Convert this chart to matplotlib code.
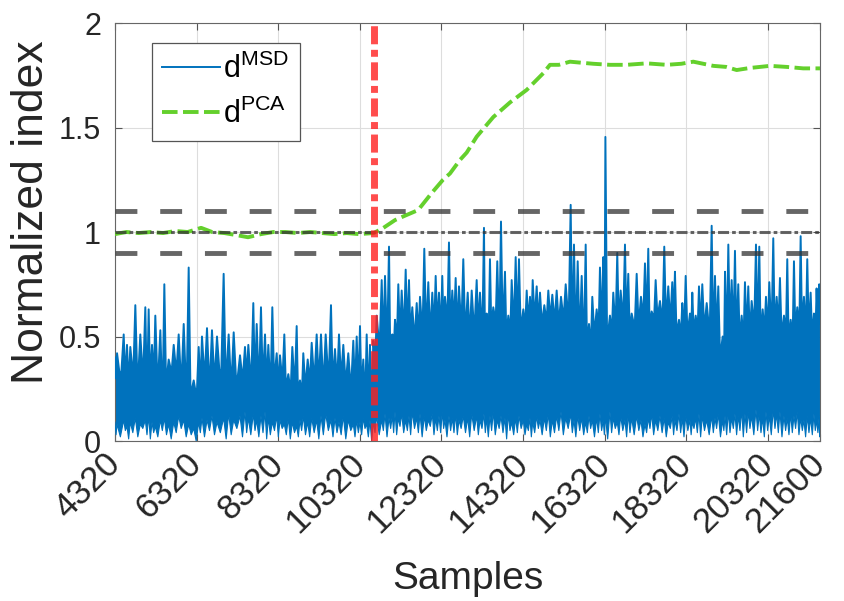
import numpy as np
import matplotlib
matplotlib.use("Agg")
import matplotlib.pyplot as plt

plt.rcParams['font.family'] = ['Liberation Sans', 'DejaVu Sans']
plt.rcParams['mathtext.fontset'] = 'custom'
plt.rcParams['mathtext.rm'] = 'Liberation Sans'

# d^MSD: spike tops (sample, value)
msd_peak_x = [4320,
    4370, 4533, 4614, 4695, 4818, 4940, 5063, 5145, 5227, 5308, 5431, 5529, 5636,
    5759, 5881, 6004, 6126, 6249, 6371, 6452, 6575, 6697, 6820, 6983, 7106, 7229,
    7384, 7506, 7588, 7710, 7793, 7898, 7997, 8078, 8176, 8283, 8364, 8470, 8568,
    8666, 8773, 8854, 8935, 9043, 9141, 9263, 9369, 9484, 9614, 9712, 9810, 9916,
    10038, 10161,
    10244, 10325, 10406, 10489, 10570, 10651, 10734, 10857, 10938, 11036, 11117,
    11183, 11264, 11347, 11445, 11526, 11607, 11715, 11796, 11901, 11999, 12097,
    12180, 12261, 12342, 12408, 12506, 12587, 12670, 12751, 12857, 12965, 13063,
    13185, 13266, 13364, 13430, 13511, 13592, 13690, 13781, 13879, 13960, 14043,
    14141, 14222, 14328, 14411, 14492, 14558, 14656, 14737, 14843, 14941, 15039,
    15146, 15252, 15367, 15489, 15570, 15661, 15759, 15857, 15938, 16019,
    16126, 16207, 16288, 16340, 16452, 16533, 16631, 16714, 16820, 16901, 16984,
    17107, 17212, 17310, 17391, 17474, 17572, 17678, 17783, 17881, 17979, 18045,
    18144, 18225, 18308, 18413, 18470, 18553, 18634, 18715, 18823,
    18945, 19026, 19107, 19215, 19272, 19353, 19435, 19516, 19597, 19680, 19761,
    19842, 19925, 20031, 20112, 20195, 20276, 20357, 20455, 20538, 20619, 20717,
    20798, 20881, 20962, 21043, 21126, 21207, 21288, 21371, 21452, 21517, 21581,
    21600]
msd_peak_y = [0.40,
    0.42, 0.51, 0.46, 0.45, 0.65, 0.51, 0.64, 0.63, 0.46, 0.60, 0.53, 0.75, 0.39,
    0.46, 0.51, 0.56, 0.83, 0.29, 0.45, 0.50, 0.54, 0.53, 0.50, 0.80, 0.51, 0.52,
    0.41, 0.45, 0.46, 0.66, 0.56, 0.64, 0.51, 0.46, 0.64, 0.42, 0.41, 0.51, 0.32,
    0.45, 0.55, 0.29, 0.42, 0.39, 0.47, 0.51, 0.51, 0.51, 0.65, 0.44, 0.51, 0.46,
    0.42, 0.48,
    0.50, 0.55, 0.39, 0.51, 0.46, 0.48, 0.60, 0.77, 0.79, 0.93, 0.51,
    0.58, 0.75, 0.72, 0.82, 0.77, 0.64, 0.66, 0.69, 0.92, 0.76, 0.71,
    0.79, 0.71, 0.79, 0.69, 0.95, 0.72, 0.78, 0.74, 0.87, 0.71, 0.72,
    0.77, 0.71, 1.02, 0.61, 0.87, 0.64, 0.86, 1.05, 0.81, 0.60, 0.77,
    0.88, 0.87, 0.63, 0.72, 0.69, 0.77, 0.74, 0.71, 0.65, 0.72, 0.70,
    0.72, 0.69, 0.75, 1.13, 0.94, 0.86, 0.79, 0.94, 0.56, 0.69,
    0.63, 0.83, 0.88, 1.455, 0.60, 0.71, 0.90, 0.72, 0.94, 0.80, 0.61,
    0.80, 0.69, 0.85, 0.92, 0.62, 0.77, 0.67, 0.93, 0.74, 0.76, 0.81,
    0.58, 0.66, 0.79, 0.61, 0.71, 0.60, 0.74, 0.75, 0.66,
    1.03, 0.79, 0.74, 0.50, 0.81, 0.94, 0.77, 0.91, 0.75, 0.60, 0.76,
    0.74, 0.67, 0.94, 0.93, 0.63, 0.69, 0.76, 0.97, 0.69, 0.78, 0.60,
    0.87, 0.58, 0.86, 0.64, 0.98, 0.69, 0.87, 0.71, 0.61, 0.73, 0.75,
    0.72]
# top of the dense part between two spikes
msd_valley_y = [
    0.30, 0.33, 0.35, 0.32, 0.36, 0.34, 0.37, 0.33, 0.35, 0.36, 0.34, 0.30, 0.32, 0.35,
    0.37, 0.34, 0.33, 0.25, 0.24, 0.32, 0.36, 0.33, 0.35, 0.34, 0.36, 0.33, 0.31,
    0.33, 0.35, 0.34, 0.37, 0.35, 0.36, 0.33, 0.32, 0.34, 0.31, 0.33, 0.28, 0.27, 0.32,
    0.26, 0.25, 0.30, 0.32, 0.34, 0.35, 0.33, 0.36, 0.34, 0.33, 0.35, 0.32, 0.30, 0.32,
    0.33, 0.30, 0.26, 0.28, 0.24, 0.42, 0.50, 0.55, 0.56, 0.45, 0.47, 0.52, 0.57, 0.58,
    0.60, 0.56, 0.53, 0.55, 0.58, 0.60, 0.57, 0.59, 0.61, 0.58, 0.60, 0.62, 0.60, 0.62,
    0.59, 0.61, 0.58, 0.56, 0.58,
    0.60, 0.58, 0.52, 0.55, 0.58, 0.60, 0.62, 0.63, 0.54, 0.55, 0.62, 0.64, 0.57, 0.58,
    0.61, 0.60, 0.63, 0.61, 0.59, 0.60, 0.62, 0.61, 0.60, 0.62, 0.64, 0.63, 0.60, 0.58,
    0.55, 0.50, 0.49, 0.55,
    0.57, 0.62, 0.60, 0.53, 0.55, 0.60, 0.62, 0.63, 0.64, 0.56, 0.57, 0.60, 0.63, 0.65,
    0.58, 0.60, 0.62, 0.61, 0.63, 0.62, 0.64, 0.54, 0.53, 0.58, 0.55, 0.57, 0.55, 0.56,
    0.60, 0.58, 0.57,
    0.60, 0.58, 0.44, 0.45, 0.58, 0.62, 0.60, 0.58, 0.52, 0.53, 0.58, 0.56, 0.60, 0.62,
    0.55, 0.56, 0.58, 0.60, 0.59, 0.60, 0.54, 0.55, 0.52, 0.53, 0.57, 0.58, 0.60, 0.58,
    0.59, 0.54, 0.55, 0.58, 0.56]
# lower edge: tooth height under each spike, and the dip in between
msd_floor_y = [
    0.09, 0.08, 0.10, 0.07, 0.09, 0.11, 0.08, 0.10, 0.12, 0.09, 0.07, 0.10, 0.11, 0.08,
    0.09, 0.12, 0.10, 0.08, 0.06, 0.09, 0.11, 0.10, 0.12, 0.09, 0.11, 0.13, 0.10,
    0.12, 0.14, 0.11, 0.13, 0.10, 0.12, 0.14, 0.11, 0.09, 0.12, 0.10, 0.08, 0.11, 0.09,
    0.07, 0.10, 0.12, 0.09, 0.11, 0.10, 0.12, 0.13, 0.10, 0.11, 0.09, 0.12, 0.10, 0.08,
    0.10, 0.09, 0.11, 0.08, 0.10, 0.09, 0.12, 0.10, 0.13, 0.11, 0.12, 0.14, 0.11, 0.13,
    0.10, 0.12, 0.14, 0.11, 0.13, 0.12, 0.10, 0.13, 0.11, 0.12, 0.14, 0.10, 0.12, 0.11,
    0.13, 0.10, 0.12, 0.11, 0.13,
    0.12, 0.10, 0.13, 0.11, 0.12, 0.14, 0.10, 0.12, 0.11, 0.13, 0.09, 0.11, 0.12, 0.10,
    0.08, 0.11, 0.09, 0.12, 0.10, 0.11, 0.13, 0.10, 0.12, 0.14, 0.11, 0.13, 0.10, 0.12,
    0.11, 0.09, 0.12, 0.10,
    0.11, 0.13, 0.10, 0.12, 0.14, 0.11, 0.09, 0.12, 0.10, 0.13, 0.11, 0.12, 0.10, 0.08,
    0.11, 0.13, 0.10, 0.12, 0.11, 0.09, 0.12, 0.10, 0.13, 0.11, 0.12, 0.10, 0.09, 0.11,
    0.13, 0.12, 0.10,
    0.12, 0.11, 0.13, 0.10, 0.12, 0.14, 0.11, 0.13, 0.12, 0.15, 0.13, 0.14, 0.12, 0.15,
    0.13, 0.11, 0.14, 0.12, 0.15, 0.13, 0.14, 0.12, 0.11, 0.13, 0.12, 0.14, 0.11, 0.10,
    0.12, 0.11, 0.13, 0.10, 0.12, 0.11]
msd_trough_y = [
    0.03, 0.02, 0.05, 0.01, 0.04, 0.02, 0.06, 0.03, 0.01, 0.04,
    0.02, 0.05, 0.03, 0.01, 0.04, 0.06, 0.02, 0.03, 0.00, 0.04,
    0.02, 0.05, 0.03, 0.04, 0.01, 0.03, 0.06, 0.02, 0.04, 0.03,
    0.05, 0.02, 0.04, 0.01, 0.03, 0.05, 0.02, 0.06, 0.03, 0.01,
    0.04, 0.02, 0.05, 0.03, 0.02, 0.04, 0.01, 0.03, 0.05, 0.02,
    0.04, 0.03, 0.01, 0.05, 0.02, 0.04, 0.03, 0.06, 0.02, 0.00,
    0.04, 0.03, 0.05, 0.02, 0.06, 0.04, 0.03, 0.07, 0.04, 0.05,
    0.03, 0.06, 0.04, 0.02, 0.05, 0.07, 0.03, 0.05, 0.04, 0.06,
    0.02, 0.05, 0.04, 0.03, 0.06, 0.04, 0.02, 0.05, 0.03, 0.06,
    0.04, 0.02, 0.05, 0.03, 0.06, 0.04, 0.01, 0.05, 0.03, 0.04,
    0.06, 0.03, 0.05, 0.02, 0.04, 0.06, 0.03, 0.05, 0.02, 0.04,
    0.05, 0.03, 0.06, 0.04, 0.02, 0.05, 0.03, 0.04, 0.06, 0.02,
    0.04, 0.05, 0.03, 0.01, 0.04, 0.06, 0.03, 0.05, 0.02, 0.04,
    0.03, 0.05, 0.02, 0.04, 0.06, 0.03, 0.05, 0.04, 0.02, 0.06,
    0.03, 0.05, 0.04, 0.02, 0.05, 0.03, 0.06, 0.04, 0.02, 0.05,
    0.03, 0.04, 0.06, 0.02, 0.05, 0.03, 0.04, 0.06, 0.03, 0.05,
    0.02, 0.04, 0.06, 0.03, 0.05, 0.04, 0.02, 0.05, 0.03, 0.06,
    0.04, 0.02, 0.05, 0.03, 0.04, 0.06, 0.03, 0.05, 0.02, 0.04,
    0.03, 0.05, 0.04, 0.02]

# d^PCA
pca_x = [4320, 4600, 4900, 5200, 5500, 5800, 6100, 6430, 6700, 7000, 7300, 7580,
         7900, 8200, 8500, 8800, 9100, 9400, 9700, 10000, 10300, 10660, 10900,
         11183, 11450, 11750, 12080, 12360, 12531, 12776, 12940, 13185, 13592,
         14002, 14411, 14818, 14982, 15200, 15472, 15750, 16044, 16452, 16861,
         17351, 17842, 18200, 18495, 18985, 19300, 19558, 19884, 20374, 20783,
         21190, 21600]
pca_y = [0.99, 1.0, 0.995, 1.0, 0.995, 1.005, 1.0, 1.02, 1.0, 0.995, 0.985, 0.975,
         0.99, 1.0, 1.0, 0.995, 1.0, 0.995, 0.99, 0.995, 0.99, 0.995, 1.02,
         1.057, 1.08, 1.105, 1.186, 1.25, 1.28, 1.345, 1.38, 1.456, 1.55,
         1.62, 1.68, 1.76, 1.80, 1.80, 1.815, 1.81, 1.805, 1.80, 1.80,
         1.807, 1.80, 1.805, 1.815, 1.795, 1.79, 1.775, 1.785, 1.795, 1.79,
         1.783, 1.783]

upper_limit = 1.1
lower_limit = 0.9
nominal = 1.0
change_point = 10660

xticks = [4320, 6320, 8320, 10320, 12320, 14320, 16320, 18320, 20320, 21600]
yticks = [0, 0.5, 1, 1.5, 2]
ytick_labels = ['0', '0.5', '1', '1.5', '2']

blue = '#0072BD'
green = '#64d02c'

fig = plt.figure(figsize=(8.45, 6.01), dpi=100)
ax = fig.add_axes([0.1361, 0.2662, 0.8343, 0.6955])

px = np.array(msd_peak_x, dtype=float)
step = px[1:] - px[:-1]
n = len(px)

# upper edge: spike, then a flat stretch of the dense band
up_x = np.empty(3 * n - 2)
up_y = np.empty(3 * n - 2)
up_x[0::3] = px
up_x[1::3] = px[:-1] + 0.35 * step
up_x[2::3] = px[:-1] + 0.65 * step
up_y[0::3] = msd_peak_y
up_y[1::3] = msd_valley_y
up_y[2::3] = msd_valley_y

# lower edge: tooth under each spike, dip in between
lo_x = np.empty(2 * n - 1)
lo_y = np.empty(2 * n - 1)
lo_x[0::2] = px
lo_x[1::2] = px[:-1] + 0.5 * step
lo_y[0::2] = msd_floor_y
lo_y[1::2] = msd_trough_y

ax.fill(np.concatenate([up_x, lo_x[::-1]]), np.concatenate([up_y, lo_y[::-1]]),
        color=blue, lw=0, zorder=2)
ax.plot(up_x, up_y, color=blue, lw=1.4, label=r'd$^{\mathrm{MSD}}$', zorder=3)
ax.plot(lo_x, lo_y, color=blue, lw=0.8, zorder=3)
ax.plot(pca_x, pca_y, color=green, lw=2.8, ls=(0, (4, 1.4)),
        label=r'd$^{\mathrm{PCA}}$', zorder=4)

ax.axhline(upper_limit, color='#333333', alpha=0.75, lw=3.5, ls=(0, (4.5, 4.7)), zorder=5)
ax.axhline(lower_limit, color='#333333', alpha=0.75, lw=3.5, ls=(0, (4.5, 4.7)), zorder=5)
ax.axhline(nominal, color='#333333', alpha=0.75, lw=2.2, ls=(0, (3.6, 1, 1.2, 1)), zorder=5)
ax.axvline(change_point, color='#ff2020', alpha=0.8, lw=5, ls=(0, (2.6, 0.8, 1, 0.8)), zorder=6)

ax.set_xlim(4320, 21600)
ax.set_ylim(0, 2)
ax.set_xticks(xticks)
ax.set_xticklabels([str(t) for t in xticks], rotation=45, ha='right', va='center',
                   rotation_mode='anchor')
ax.set_yticks(yticks)
ax.set_yticklabels(ytick_labels)
ax.tick_params(direction='in', length=5, top=True, right=True, labelsize=22,
               labelcolor='#262626', color='#555555', width=0.8)
ax.tick_params(axis='x', pad=13, labelsize=25)
ax.tick_params(axis='y', pad=10)
ax.grid(True, color='#dddddd', lw=0.8)
ax.set_axisbelow(True)
for s in ax.spines.values():
    s.set_color('#666666')
    s.set_linewidth(0.8)

ax.set_xlabel('Samples', fontsize=28, color='#262626', labelpad=16)
ax.set_ylabel('Normalized index', fontsize=32, color='#262626')
ax.yaxis.set_label_coords(-0.09, 0.548)

leg = ax.legend(loc='upper left', bbox_to_anchor=(0.052, 0.952), borderaxespad=0,
                fontsize=22, handlelength=1.9, handletextpad=0.1, labelspacing=0.45,
                fancybox=False, framealpha=1, edgecolor='#555555',
                borderpad=0.35)
leg.get_frame().set_linewidth(0.9)

fig.savefig('out.png', dpi=100)
